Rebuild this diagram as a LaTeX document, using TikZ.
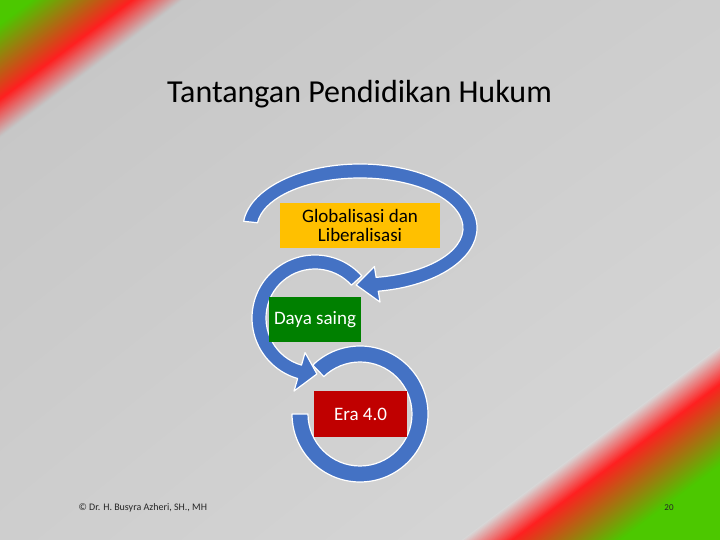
\documentclass[tikz,border=0pt]{standalone}
\usepackage{fontspec}
\setmainfont{Carlito}
\usepackage{xcolor}
\usetikzlibrary{calc,shadings}
\definecolor{bandblau}{RGB}{68,114,196}
\definecolor{ecgruen}{RGB}{76,200,0}
\definecolor{ecrot}{RGB}{255,32,32}
\definecolor{hgdunkel}{RGB}{197,197,197}
\definecolor{hgmittel}{RGB}{206,206,206}
\definecolor{hghell}{RGB}{216,216,216}
\definecolor{boxgelb}{RGB}{255,192,0}
\definecolor{boxgruen}{RGB}{0,128,0}
\definecolor{boxrot}{RGB}{192,0,0}
\tikzset{
	band/.style={fill=bandblau, draw=white, line width=1.2pt, line join=round},
	kasten/.style={inner sep=0pt, align=center, font=\fontsize{19}{19}\selectfont}
}

\begin{document}
\begin{tikzpicture}[x=1pt,y=1pt]
	% Hintergrund
	\useasboundingbox (0,0) rectangle (720,540);
	\shade[upper left=hgdunkel, upper right=hgmittel, lower left=hgmittel, lower right=hghell] (0,0) rectangle (720,540);
	% Ecke oben links
	\foreach \d in {110,109,...,81}{
		\pgfmathsetmacro\p{(\d-80)/30*100}
		\fill[hgdunkel!\p!ecrot] (0,540) -- (\d/0.6,540) -- (0,540-\d/0.8) -- cycle;
	}
	\foreach \d in {80,79,...,1}{
		\pgfmathsetmacro\p{max(0,min(100,(\d-20)/60*100))}
		\fill[ecrot!\p!ecgruen] (0,540) -- (\d/0.6,540) -- (0,540-\d/0.8) -- cycle;
	}
	% Ecke unten rechts
	\foreach \d in {155,154,...,126}{
		\pgfmathsetmacro\p{(\d-125)/30*100}
		\fill[hghell!\p!ecrot] (720,0) -- (720-\d/0.6,0) -- (720,\d/0.8) -- cycle;
	}
	\foreach \d in {125,124,...,1}{
		\pgfmathsetmacro\p{max(0,min(100,(\d-60)/65*100))}
		\fill[ecrot!\p!ecgruen] (720,0) -- (720-\d/0.6,0) -- (720,\d/0.8) -- cycle;
	}
	% Titel
	\node[font=\fontsize{32}{38}\selectfont, anchor=base] (titel) at (359.5,437) {Tantangan Pendidikan Hukum};
	% Pfeilbaender
	\coordinate (m1) at (360,312);
	\coordinate (m2) at (315,222);
	\coordinate (m3) at (360,126);
	\draw[band] ($(m1)+(174:117pt and 64pt)$) arc[start angle=174, end angle=-81, x radius=117pt, y radius=64pt]
		-- ($(m1)+(-81:128pt and 75pt)$) -- ($(m1)+(-92:110pt and 57pt)$) -- ($(m1)+(-81:92pt and 39pt)$)
		-- ($(m1)+(-81:103pt and 50pt)$) arc[start angle=-81, end angle=174, x radius=103pt, y radius=50pt] -- cycle;
	\draw[band] ($(m2)+(42:63pt)$) arc[start angle=42, end angle=254, radius=63pt]
		-- ($(m2)+(254:76pt)$) -- ($(m2)+(272:56pt)$) -- ($(m2)+(254:36pt)$)
		-- ($(m2)+(254:49pt)$) arc[start angle=254, end angle=42, radius=49pt] -- cycle;
	\draw[band] ($(m3)+(134:68pt)$) arc[start angle=134, end angle=-180, radius=68pt]
		-- ($(m3)+(180:52pt)$) arc[start angle=-180, end angle=134, radius=52pt] -- cycle;
	% Kaesten
	\node[kasten, fill=boxgelb, minimum width=160pt, minimum height=45pt] (glob) at (360,314.5) {Globalisasi dan\\Liberalisasi};
	\node[kasten, fill=boxgruen, text=white, minimum width=92pt, minimum height=45pt] (daya) at (315,220.5) {Daya saing};
	\node[kasten, fill=boxrot, text=white, minimum width=93pt, minimum height=46pt] (era) at (360.5,126) {Era 4.0};
	% Fusszeile
	\node[font=\fontsize{10}{12}\selectfont, anchor=base west, text=black!85] (fuss) at (75,29.5) {© Dr. H. Busyra Azheri, SH., MH};
	\node[font=\fontsize{9}{11}\selectfont, anchor=base, text=black!85] (seite) at (669,29.5) {20};
\end{tikzpicture}
\end{document}
